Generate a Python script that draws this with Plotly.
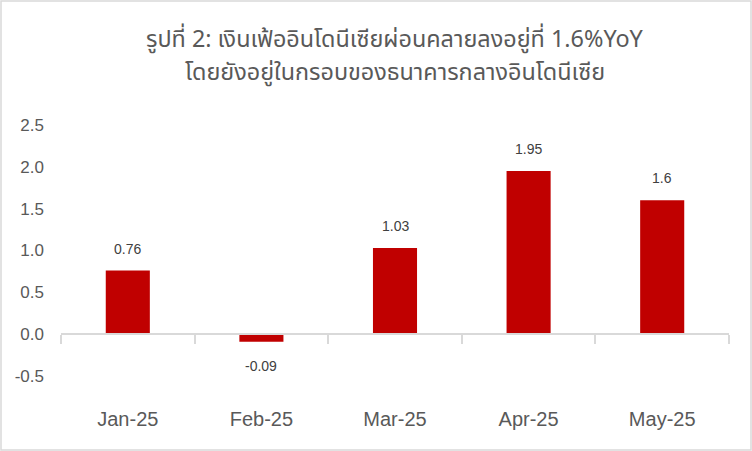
import plotly.graph_objects as go

categories = ["Jan-25", "Feb-25", "Mar-25", "Apr-25", "May-25"]
values = [0.76, -0.09, 1.03, 1.95, 1.6]
value_labels = ["0.76", "-0.09", "1.03", "1.95", "1.6"]
y_ticks = [-0.5, 0.0, 0.5, 1.0, 1.5, 2.0, 2.5]
y_tick_labels = ["-0.5", "0.0", "0.5", "1.0", "1.5", "2.0", "2.5"]
title_lines = ["รูปที่ 2: เงินเฟ้ออินโดนีเซียผ่อนคลายลงอยู่ที่ 1.6%YoY",
               "โดยยังอยู่ในกรอบของธนาคารกลางอินโดนีเซีย"]

W, H = 752, 451
L, R, T, B = 61, 23, 125, 75
PW, PH = W - L - R, H - T - B

FONT = "Liberation Sans Narrow, Liberation Sans, Noto Sans, sans-serif"
TFONT = "Noto Sans Thai, Noto Sans, sans-serif"

fig = go.Figure()
fig.add_trace(go.Bar(
    x=categories, y=values,
    marker=dict(color="#C00000", line=dict(width=0)),
    width=0.33,
    hoverinfo="skip",
))

annotations = []
for c, v, t in zip(categories, values, value_labels):
    annotations.append(dict(
        x=c, y=v, text=t, showarrow=False, xref="x", yref="y",
        yshift=22 if v >= 0 else -24,
        font=dict(family=FONT, size=14, color="#404040"),
    ))

# title, two lines
title_y = [40, 73]
for line, yy in zip(title_lines, title_y):
    annotations.append(dict(
        x=0.5, y=1 + (T - yy) / PH, xref="paper", yref="paper",
        xanchor="center", yanchor="middle", showarrow=False,
        text=line, font=dict(family=TFONT, size=23.4, color="#595959"),
    ))

fig.update_layout(
    width=W, height=H,
    margin=dict(l=L, r=R, t=T, b=B, pad=0),
    paper_bgcolor="white", plot_bgcolor="white",
    showlegend=False,
    bargap=0.67,
    annotations=annotations,
    xaxis=dict(
        type="category",
        anchor="free", position=(0 - (-0.5)) / 3.0,
        showline=True, linecolor="#D9D9D9", linewidth=1.5,
        ticks="outside", tickson="boundaries", ticklen=9, tickcolor="#D9D9D9", tickwidth=1.5,
        showgrid=False, zeroline=False,
        tickfont=dict(family=FONT, size=20, color="#595959"),
        ticklabelstandoff=67,
    ),
    yaxis=dict(
        range=[-0.5, 2.5],
        tickmode="array", tickvals=y_ticks, ticktext=y_tick_labels,
        showgrid=False, showline=False, zeroline=False,
        ticks="",
        tickfont=dict(family=FONT, size=17, color="#595959"),
        ticklabelstandoff=16,
    ),
    shapes=[dict(
        type="rect", xref="paper", yref="paper",
        x0=(1 - L) / PW, x1=1 + (R - 1) / PW,
        y0=-(B - 1) / PH, y1=1 + (T - 1) / PH,
        line=dict(color="#D9D9D9", width=1.5), fillcolor="rgba(0,0,0,0)",
        layer="below",
    )],
)

fig.write_html("out.html", config={"displayModeBar": False},
               post_script="document.body.style.margin='0';")
